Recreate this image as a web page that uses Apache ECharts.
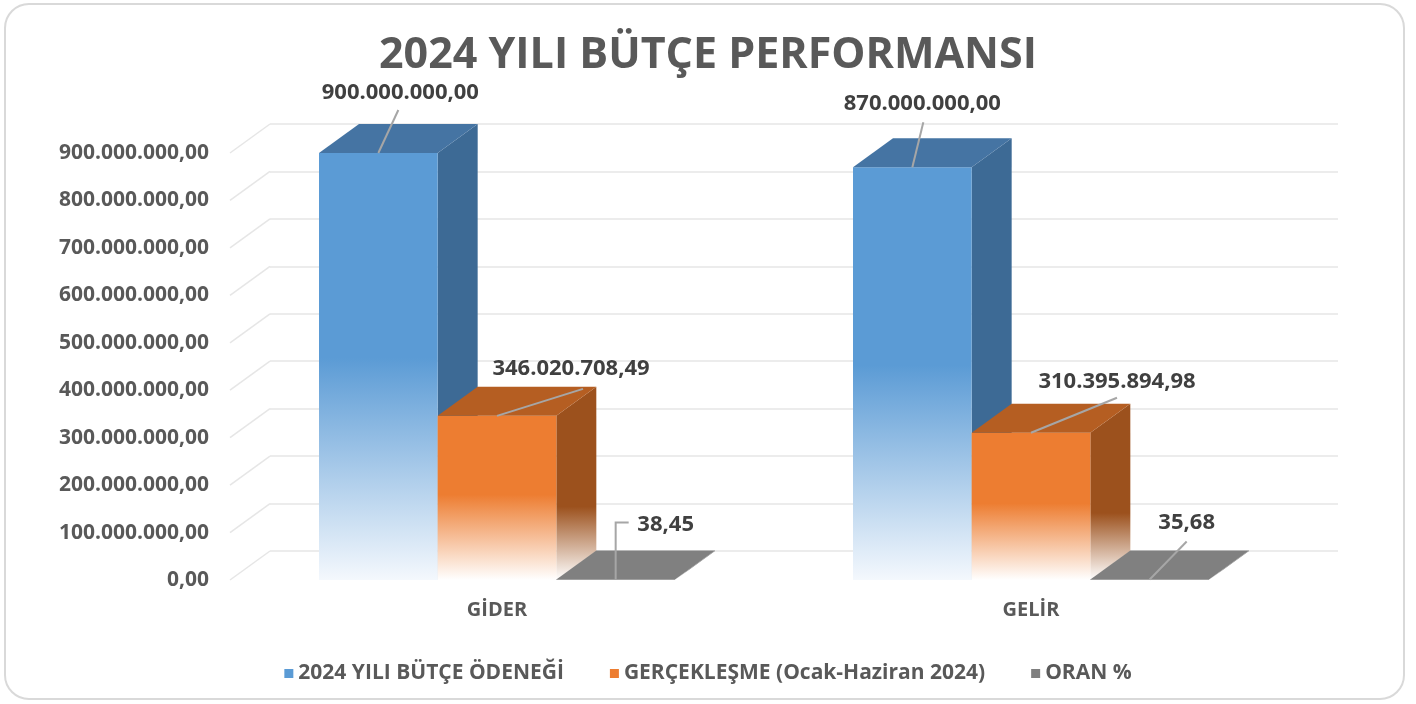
<!DOCTYPE html>
<html>
<head>
<meta charset="utf-8">
<script src="https://cdn.jsdelivr.net/npm/echarts@6/dist/echarts.min.js"></script>
<style>
  html, body { margin: 0; padding: 0; background: #fff; }
  #main { width: 1416px; height: 704px; }
</style>
</head>
<body>
<div id="main"></div>
<script>
const categories = ['GİDER', 'GELİR'];
const seriesNames = ['2024 YILI BÜTÇE ÖDENEĞİ', 'GERÇEKLEŞME (Ocak-Haziran 2024)', 'ORAN %'];
const butceOdenegi = [900000000.00, 870000000.00];
const gerceklesme = [346020708.49, 310395894.98];
const oran = [38.45, 35.68];
const yTicks = [0, 100000000, 200000000, 300000000, 400000000, 500000000, 600000000, 700000000, 800000000, 900000000];
const yMax = 900000000;
const yStep = 100000000;

// oblique depth of the 3D boxes (px)
const DX = 40, DY = -29;
const FONT = '"Open Sans", "Noto Sans", sans-serif';

// face colours: front, side, top, fade end
const palette = [
  { front: '#5B9BD5', side: '#3D6A95', top: '#4574A3', fade: '#f4f8fd', fadeSide: false },
  { front: '#ED7D31', side: '#9C511D', top: '#B55E22', fade: '#ffffff', fadeSide: true },
  { front: '#7F7F7F', side: '#6f6f6f', top: '#808080', fade: '#ffffff', fadeSide: true }
];

// leader line points and text position, relative to the bar's front-top centre
const labelPlace = [
  [{ line: [[0, 0], [20, -43]], text: [22, -60] }, { line: [[0, 0], [11, -45]], text: [10, -63] }],
  [{ line: [[0, 0], [86, -27]], text: [74, -47] }, { line: [[0, 0], [86, -35]], text: [86, -51] }],
  [{ line: [[0, 0], [0, -57], [13, -57]], text: [50, -55] }, { line: [[0, 0], [37, -38]], text: [37, -57] }]
];

function trNum(v) {
  const parts = v.toFixed(2).split('.');
  return parts[0].replace(/\B(?=(\d{3})+(?!\d))/g, '.') + ',' + parts[1];
}

function fade(c, end, start) {
  return {
    type: 'linear', x: 0, y: 0, x2: 0, y2: 1,
    colorStops: [
      { offset: 0, color: c },
      { offset: start, color: c },
      { offset: 1, color: end }
    ]
  };
}

function boxRenderer(si) {
  const pal = palette[si];
  return function (params, api) {
    const ci = api.value(0);
    const val = api.value(1);
    const base = api.coord([ci, 0]);
    const top = api.coord([ci, val]);
    const band = api.size([1, 0])[0];
    const bw = band * (2 / 3) / 3;
    const x0 = base[0] - 1.5 * bw + si * bw;
    const x1 = x0 + bw;
    const yb = base[1];
    const yt = Math.min(top[1], yb - 0.5);
    const cx = (x0 + x1) / 2;
    const place = labelPlace[si][ci];
    const children = [
      {
        type: 'polygon',
        shape: { points: [[x1, yt], [x1 + DX, yt + DY], [x1 + DX, yb + DY], [x1, yb]] },
        style: { fill: pal.fadeSide ? fade(pal.side, pal.fade, 0.62) : fade(pal.side, '#9fb6cc', 0.75) }
      },
      {
        type: 'polygon',
        shape: { points: [[x0, yt], [x1, yt], [x1, yb], [x0, yb]] },
        style: { fill: fade(pal.front, pal.fade, 0.48) }
      },
      {
        type: 'polygon',
        shape: { points: [[x0, yt], [x1, yt], [x1 + DX, yt + DY], [x0 + DX, yt + DY]] },
        style: { fill: pal.top }
      },
      {
        type: 'polyline',
        shape: { points: place.line.map(p => [cx + p[0], yt + p[1]]) },
        style: { stroke: '#a6a6a6', lineWidth: 2, fill: null },
        z2: 10
      },
      {
        type: 'text',
        x: cx + place.text[0],
        y: yt + place.text[1],
        style: {
          text: trNum(val),
          fill: '#404040',
          font: 'bold 22px ' + FONT,
          align: 'center',
          verticalAlign: 'middle'
        },
        z2: 11
      }
    ];
    return { type: 'group', children: children };
  };
}

function sideWallRenderer(params, api) {
  const cs = params.coordSys;
  const p = api.coord([0, api.value(1)]);
  return {
    type: 'line',
    shape: { x1: cs.x, y1: p[1], x2: cs.x + DX, y2: p[1] + DY },
    style: { stroke: '#e6e6e6', lineWidth: 1.5 }
  };
}

const chart = echarts.init(document.getElementById('main'));
const seriesValues = [butceOdenegi, gerceklesme, oran];

const option = {
  animation: false,
  backgroundColor: '#ffffff',
  graphic: [{
    type: 'rect',
    shape: { x: 5, y: 4, width: 1399, height: 695, r: 24 },
    style: { fill: 'none', stroke: '#d9d9d9', lineWidth: 2 },
    silent: true,
    z: -10
  }],
  title: {
    text: '2024 YILI BÜTÇE PERFORMANSI',
    left: 'center',
    top: 29,
    textStyle: { fontFamily: FONT, fontSize: 43, fontWeight: 'bold', color: '#595959' }
  },
  legend: {
    data: seriesNames,
    left: 'center',
    top: 658,
    icon: 'rect',
    itemWidth: 9,
    itemHeight: 9,
    itemGap: 46,
    textStyle: { fontFamily: FONT, fontSize: 21, fontWeight: 'bold', color: '#595959' }
  },
  grid: [
    { left: 230, right: 118, top: 153, bottom: 124 },
    { left: 230 + DX, right: 118 - DX, top: 153 + DY, bottom: 124 - DY }
  ],
  xAxis: [
    {
      type: 'category', gridIndex: 0, data: categories,
      axisLine: { show: false }, axisTick: { show: false },
      axisLabel: { margin: 20, fontFamily: FONT, fontSize: 20, fontWeight: 'bold', color: '#595959' }
    },
    { type: 'category', gridIndex: 1, data: categories, show: false }
  ],
  yAxis: [
    {
      type: 'value', gridIndex: 0, min: 0, max: yMax, interval: yStep,
      splitLine: { show: false }, axisLine: { show: false }, axisTick: { show: false },
      axisLabel: { margin: 21, formatter: v => trNum(v), fontFamily: FONT, fontSize: 21, fontWeight: 'bold', color: '#595959' }
    },
    {
      type: 'value', gridIndex: 1, min: 0, max: yMax, interval: yStep,
      axisLine: { show: false }, axisTick: { show: false }, axisLabel: { show: false },
      splitLine: { lineStyle: { color: '#e6e6e6', width: 1.5 } }
    }
  ],
  series: [
    {
      type: 'custom', name: 'wall', xAxisIndex: 0, yAxisIndex: 0,
      renderItem: sideWallRenderer,
      data: yTicks.map(t => [0, t]),
      silent: true, z: 1
    }
  ].concat(seriesNames.map((name, si) => ({
    type: 'custom',
    name: name,
    xAxisIndex: 0, yAxisIndex: 0,
    renderItem: boxRenderer(si),
    itemStyle: { color: palette[si].front },
    encode: { x: 0, y: 1 },
    data: seriesValues[si].map((v, i) => [i, v]),
    z: 2 + si
  })))
};

chart.setOption(option);
</script>
</body>
</html>
